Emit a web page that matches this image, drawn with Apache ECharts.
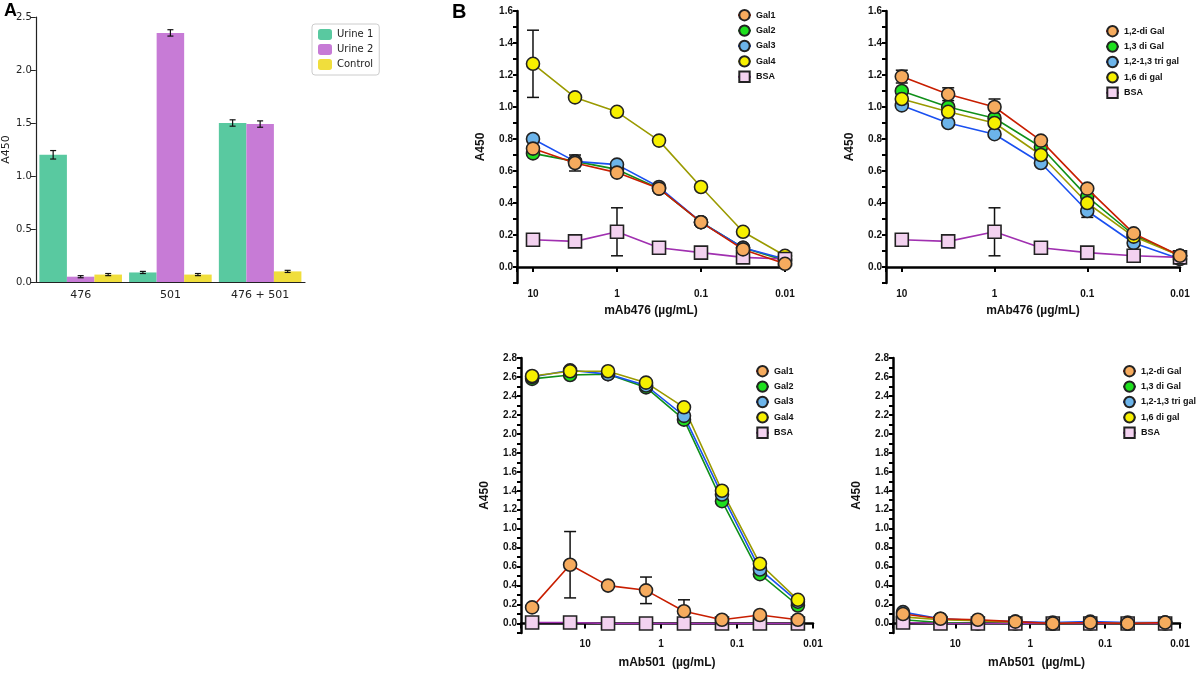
<!DOCTYPE html>
<html>
<head>
<meta charset="utf-8">
<script src="https://cdn.jsdelivr.net/npm/echarts@6/dist/echarts.min.js"></script>
<style>html,body{margin:0;background:#fff}#chart{width:1200px;height:674px}</style>
</head>
<body>
<div id="chart"></div>
<script>
var chart = echarts.init(document.getElementById('chart'));

// panel A
var samples = ['476', '501', '476 + 501'];
var urine1 = [1.20, 0.09, 1.50];
var urine2 = [0.05, 2.35, 1.49];
var control = [0.07, 0.07, 0.10];
var urine1Err = [0.04, 0.01, 0.03];
var urine2Err = [0.01, 0.03, 0.03];
var controlErr = [0.01, 0.01, 0.01];

// panel B doses
var doseTop = [10, 3.16, 1, 0.316, 0.1, 0.0316, 0.01];
var doseBottom = [50, 15.8, 5, 1.58, 0.5, 0.158, 0.05, 0.0158];
var xTicks = [10, 1, 0.1, 0.01];

// top left (mAb476, Gal)
var tlGal1 = [0.74, 0.65, 0.59, 0.49, 0.28, 0.11, 0.02];
var tlGal2 = [0.71, 0.66, 0.61, 0.49, 0.28, 0.12, 0.04];
var tlGal3 = [0.80, 0.66, 0.64, 0.50, 0.28, 0.12, 0.05];
var tlGal4 = [1.27, 1.06, 0.97, 0.79, 0.50, 0.22, 0.07];
var tlBSA = [0.17, 0.16, 0.22, 0.12, 0.09, 0.06, 0.05];
var tlErr = [[10, 1.27, 0.21], [3.16, 0.65, 0.05], [1, 0.22, 0.15]];

// top right (mAb476, di/tri gal)
var tr12 = [1.19, 1.08, 1.00, 0.79, 0.49, 0.21, 0.07];
var tr13 = [1.10, 1.00, 0.93, 0.75, 0.44, 0.20, 0.07];
var trTri = [1.01, 0.90, 0.83, 0.65, 0.35, 0.15, 0.05];
var tr16 = [1.05, 0.97, 0.90, 0.70, 0.40, 0.19, 0.07];
var trBSA = [0.17, 0.16, 0.22, 0.12, 0.09, 0.07, 0.06];
var trErr = [[10, 1.19, 0.04], [3.16, 1.08, 0.04], [1, 1.00, 0.05], [1, 0.22, 0.15], [0.1, 0.35, 0.04]];

// bottom left (mAb501, Gal)
var blGal1 = [0.17, 0.62, 0.40, 0.35, 0.13, 0.04, 0.09, 0.04];
var blGal2 = [2.58, 2.62, 2.63, 2.49, 2.15, 1.29, 0.52, 0.19];
var blGal3 = [2.60, 2.67, 2.63, 2.51, 2.19, 1.36, 0.57, 0.23];
var blGal4 = [2.61, 2.66, 2.66, 2.54, 2.28, 1.40, 0.63, 0.25];
var blBSA = [0.01, 0.01, 0.00, 0.00, 0.00, 0.00, 0.00, 0.00];
var blErr = [[15.8, 0.62, 0.35], [1.58, 0.35, 0.14], [0.5, 0.13, 0.12], [0.158, 1.36, 0.06]];

// bottom right (mAb501, di/tri gal)
var br12 = [0.10, 0.05, 0.04, 0.02, 0.00, 0.01, 0.00, 0.01];
var br13 = [0.04, 0.01, 0.00, 0.00, 0.00, 0.00, 0.00, 0.00];
var brTri = [0.12, 0.05, 0.03, 0.02, 0.01, 0.02, 0.01, 0.01];
var br16 = [0.07, 0.04, 0.03, 0.01, 0.00, 0.01, 0.00, 0.01];
var brBSA = [0.01, 0.00, 0.00, 0.00, 0.00, 0.00, 0.00, 0.00];

var FILL = {orange: '#f6ab5e', green: '#1ee01e', blue: '#6cb4ea', yellow: '#f7f000', bsa: '#f3d2f0'};
var LINE = {orange: '#c81e00', green: '#10901a', blue: '#1a50f0', yellow: '#9a9a00', bsa: '#a030b0'};
var FONT = 'Liberation Sans';

function pairs(dose, vals) {
    return dose.map(function (d, i) { return [d, vals[i]]; });
}

function curve(name, dose, vals, key, idx) {
    return {
        name: name, type: 'line', xAxisIndex: idx, yAxisIndex: idx,
        data: pairs(dose, vals),
        symbol: key === 'bsa' ? 'rect' : 'circle',
        symbolSize: 13,
        lineStyle: {color: LINE[key], width: 1.6},
        itemStyle: {color: FILL[key], borderColor: '#222', borderWidth: 1.6},
        z: key === 'orange' ? 5 : 3
    };
}

function errBars(data, idx, cap) {
    return {
        type: 'custom', xAxisIndex: idx, yAxisIndex: idx, z: 2, silent: true,
        data: data,
        renderItem: function (params, api) {
            var x = api.value(0), y = api.value(1), e = api.value(2);
            var hi = api.coord([x, y + e]), lo = api.coord([x, y - e]);
            var st = {stroke: '#111', lineWidth: 1.5};
            return {type: 'group', children: [
                {type: 'line', shape: {x1: hi[0], y1: hi[1], x2: lo[0], y2: lo[1]}, style: st},
                {type: 'line', shape: {x1: hi[0] - cap, y1: hi[1], x2: hi[0] + cap, y2: hi[1]}, style: st},
                {type: 'line', shape: {x1: lo[0] - cap, y1: lo[1], x2: lo[0] + cap, y2: lo[1]}, style: st}
            ]};
        }
    };
}

function barErr(vals, errs, slot) {
    return {
        type: 'custom', xAxisIndex: 0, yAxisIndex: 0, z: 5, silent: true,
        data: vals.map(function (v, i) { return [i, v, errs[i]]; }),
        renderItem: function (params, api) {
            var c = api.coord([api.value(0), api.value(1)]);
            var w = api.size([1, 0])[0] * 0.92 / 3;
            var x = c[0] + slot * w;
            var hi = api.coord([api.value(0), api.value(1) + api.value(2)])[1];
            var lo = api.coord([api.value(0), api.value(1) - api.value(2)])[1];
            var st = {stroke: '#111', lineWidth: 1.2};
            return {type: 'group', children: [
                {type: 'line', shape: {x1: x, y1: hi, x2: x, y2: lo}, style: st},
                {type: 'line', shape: {x1: x - 3, y1: hi, x2: x + 3, y2: hi}, style: st},
                {type: 'line', shape: {x1: x - 3, y1: lo, x2: x + 3, y2: lo}, style: st}
            ]};
        }
    };
}

function logX(idx, max, name, nameGap) {
    return {
        type: 'log', gridIndex: idx, inverse: true, min: 0.01, max: max,
        name: name, nameLocation: 'middle', nameGap: nameGap,
        nameTextStyle: {fontFamily: FONT, fontWeight: 'bold', fontSize: 12, color: '#111'},
        axisLine: {lineStyle: {color: '#000', width: 2.5}},
        axisTick: {lineStyle: {color: '#000', width: 2}, length: 5},
        splitLine: {show: false},
        axisLabel: {
            fontFamily: FONT, fontWeight: 'bold', fontSize: 10, color: '#111', margin: 6,
            formatter: function (v) {
                for (var i = 0; i < xTicks.length; i++) {
                    if (Math.abs(Math.log10(v) - Math.log10(xTicks[i])) < 0.01) return String(xTicks[i]);
                }
                return '';
            }
        }
    };
}

function linY(idx, max) {
    return {
        type: 'value', gridIndex: idx, min: -0.1, max: max, interval: 0.1,
        name: 'A450', nameLocation: 'middle', nameGap: 30, nameRotate: 90,
        nameTextStyle: {fontFamily: FONT, fontWeight: 'bold', fontSize: 12, color: '#111'},
        axisLine: {show: true, lineStyle: {color: '#000', width: 2.5}},
        axisTick: {show: true, lineStyle: {color: '#000', width: 2}, length: 4},
        splitLine: {show: false},
        axisLabel: {
            fontFamily: FONT, fontWeight: 'bold', fontSize: 10, color: '#111', margin: 4,
            formatter: function (v) {
                var k = Math.round(v * 10);
                return (k >= 0 && k % 2 === 0) ? (k / 10).toFixed(1) : '';
            }
        }
    };
}

function legendB(names, left, top) {
    return {
        data: names, orient: 'vertical', left: left, top: top,
        itemGap: 3, itemWidth: 13, itemHeight: 13,
        textStyle: {fontFamily: FONT, fontSize: 9, fontWeight: 'bold', color: '#111'}
    };
}

var galNames = ['Gal1', 'Gal2', 'Gal3', 'Gal4', 'BSA'];
var diNames = ['1,2-di Gal', '1,3 di Gal', '1,2-1,3 tri gal', '1,6 di gal', 'BSA'];
var keys = ['orange', 'green', 'blue', 'yellow', 'bsa'];

function panel(names, dose, sets, idx) {
    return sets.map(function (s, i) { return curve(names[i], dose, s, keys[i], idx); });
}

var series = [
    {name: 'Urine 1', type: 'bar', data: urine1, itemStyle: {color: '#59c9a0'}, barGap: 0, barCategoryGap: '8%'},
    {name: 'Urine 2', type: 'bar', data: urine2, itemStyle: {color: '#c77bd6'}},
    {name: 'Control', type: 'bar', data: control, itemStyle: {color: '#f0de3c'}},
    barErr(urine1, urine1Err, -1), barErr(urine2, urine2Err, 0), barErr(control, controlErr, 1)
];
series = series
    .concat(panel(galNames, doseTop, [tlGal1, tlGal2, tlGal3, tlGal4, tlBSA], 1))
    .concat([errBars(tlErr, 1, 6)])
    .concat(panel(diNames, doseTop, [tr12, tr13, trTri, tr16, trBSA], 2))
    .concat([errBars(trErr, 2, 6)])
    .concat(panel(galNames, doseBottom, [blGal1, blGal2, blGal3, blGal4, blBSA], 3))
    .concat([errBars(blErr, 3, 6)])
    .concat(panel(diNames, doseBottom, [br12, br13, brTri, br16, brBSA], 4));

chart.setOption({
    animation: false,
    grid: [
        {left: 28, top: 17, width: 277, height: 265},
        {left: 517, top: 11, width: 268, height: 272},
        {left: 886, top: 11, width: 294, height: 272},
        {left: 521, top: 358, width: 292, height: 275},
        {left: 893, top: 358, width: 287, height: 275}
    ],
    xAxis: [
        {type: 'category', gridIndex: 0, data: samples,
         axisLine: {lineStyle: {color: '#222', width: 1.2}},
         axisTick: {alignWithLabel: true, lineStyle: {color: '#222'}},
         axisLabel: {fontFamily: 'DejaVu Sans', fontSize: 11, color: '#222'}},
        logX(1, 15.5, 'mAb476 (µg/mL)', 22),
        logX(2, 14.8, 'mAb476 (µg/mL)', 22),
        logX(3, 70, 'mAb501  (µg/mL)', 24),
        logX(4, 68, 'mAb501  (µg/mL)', 24)
    ],
    yAxis: [
        {type: 'value', gridIndex: 0, min: 0, max: 2.5, interval: 0.5,
         name: 'A450', nameLocation: 'middle', nameGap: 20,
         nameTextStyle: {fontFamily: 'DejaVu Sans', fontSize: 11, color: '#222'},
         axisLine: {show: true, lineStyle: {color: '#222', width: 1.2}},
         axisTick: {show: true, lineStyle: {color: '#222'}},
         splitLine: {show: false},
         axisLabel: {fontFamily: 'DejaVu Sans', fontSize: 10, color: '#222', margin: 4,
                     formatter: function (v) { return v.toFixed(1); }}},
        linY(1, 1.6), linY(2, 1.6), linY(3, 2.8), linY(4, 2.8)
    ],
    legend: [
        {data: ['Urine 1', 'Urine 2', 'Control'], orient: 'vertical', left: 312, top: 24,
         itemGap: 4, itemWidth: 14, itemHeight: 11, padding: [5, 6, 5, 6],
         borderColor: '#ccc', borderWidth: 1, borderRadius: 3,
         textStyle: {fontFamily: 'DejaVu Sans', fontSize: 10, color: '#222'}},
        legendB(galNames, 732, 4),
        legendB(diNames, 1100, 20),
        legendB(galNames, 750, 360),
        legendB(diNames, 1117, 360)
    ],
    graphic: [
        {type: 'text', left: 4, top: 2, style: {text: 'A', font: 'bold 18px Liberation Sans', fill: '#000'}},
        {type: 'text', left: 452, top: 2, style: {text: 'B', font: 'bold 20px Liberation Sans', fill: '#000'}}
    ],
    series: series
});
</script>
</body>
</html>
